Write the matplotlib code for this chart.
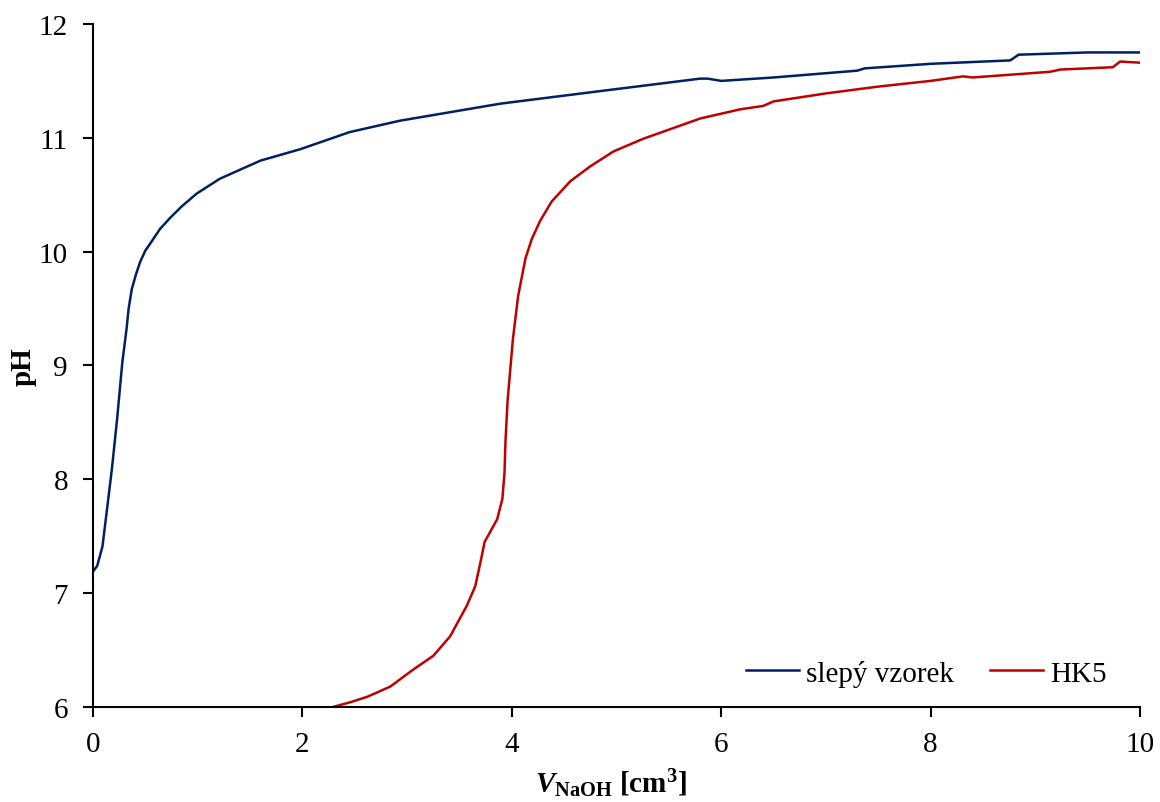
import matplotlib
matplotlib.use("Agg")
import matplotlib.pyplot as plt

plt.rcParams['font.family'] = ['Liberation Serif', 'DejaVu Serif']
plt.rcParams['mathtext.fontset'] = 'custom'
plt.rcParams['mathtext.rm'] = 'Liberation Serif:bold'
plt.rcParams['mathtext.it'] = 'Liberation Serif:italic:bold'
plt.rcParams['mathtext.bf'] = 'Liberation Serif:bold'

# blank titration (slepy vzorek)
v_blank = [0.0, 0.04, 0.09, 0.13, 0.18, 0.23, 0.28, 0.32, 0.34, 0.37, 0.41, 0.45, 0.50, 0.56,
           0.64, 0.74, 0.85, 0.99, 1.21, 1.60, 1.98, 2.45, 2.93, 3.89, 4.84, 5.80, 5.87, 6.0,
           6.5, 7.30, 7.37, 8.0, 8.76, 8.84, 9.5, 10.0]
ph_blank = [7.19, 7.24, 7.41, 7.71, 8.09, 8.53, 9.03, 9.32, 9.50, 9.67, 9.80, 9.91, 10.01, 10.09,
            10.20, 10.30, 10.40, 10.51, 10.64, 10.80, 10.90, 11.05, 11.15, 11.30, 11.41, 11.52, 11.52, 11.50,
            11.53, 11.59, 11.61, 11.65, 11.68, 11.73, 11.75, 11.75]

# sample HK5
v_hk5 = [2.29, 2.45, 2.62, 2.84, 3.06, 3.25, 3.41, 3.57, 3.65, 3.70, 3.74, 3.80, 3.86,
         3.91, 3.93, 3.94, 3.96, 4.01, 4.06, 4.13, 4.19, 4.27, 4.38, 4.56, 4.75, 4.97, 5.25,
         5.80, 6.18, 6.40, 6.50, 7.0, 7.5, 8.0, 8.31, 8.4, 9.14, 9.24, 9.74, 9.81, 10.0]
ph_hk5 = [6.0, 6.04, 6.09, 6.18, 6.33, 6.45, 6.62, 6.89, 7.06, 7.27, 7.45, 7.55, 7.65,
          7.83, 8.06, 8.35, 8.70, 9.23, 9.61, 9.94, 10.11, 10.27, 10.44, 10.62, 10.75, 10.88, 10.99,
          11.17, 11.25, 11.28, 11.32, 11.39, 11.45, 11.50, 11.54, 11.53, 11.58, 11.60, 11.62, 11.67, 11.66]

fig = plt.figure(figsize=(11.6, 8.03), dpi=100)
ax = fig.add_axes([0.0802, 0.1183, 0.9026, 0.8506])

ax.plot(v_blank, ph_blank, color='#002060', lw=1.8, label='slepý vzorek')
ax.plot(v_hk5, ph_hk5, color='#C00000', lw=1.8, label='HK5')

ax.set_xlim(0, 10)
ax.set_ylim(6, 12)
ax.set_xticks([0, 2, 4, 6, 8, 10])
ax.set_yticks([6, 7, 8, 9, 10, 11, 12])
for s in ['top', 'right']:
    ax.spines[s].set_visible(False)
for s in ['left', 'bottom']:
    ax.spines[s].set_linewidth(1.5)
ax.tick_params(direction='out', length=7, width=1.5, labelsize=21)
ax.tick_params(axis='y', pad=11)
ax.tick_params(axis='x', pad=10)

ax.set_xlabel(r'$\mathit{V}_{\mathrm{NaOH}}$ [cm$^{3}$]', fontsize=21, fontweight='bold')
ax.xaxis.set_label_coords(0.495, -0.087)
ax.set_ylabel('pH', fontsize=21, fontweight='bold')
ax.yaxis.set_label_coords(-0.054, 0.5)

ax.legend(loc='lower right', ncol=2, frameon=False, fontsize=21, handlelength=1.8,
          columnspacing=1.25, handletextpad=0.25, borderpad=0, borderaxespad=0,
          bbox_to_anchor=(0.968, 0.03))

fig.savefig('out.png', dpi=100)
